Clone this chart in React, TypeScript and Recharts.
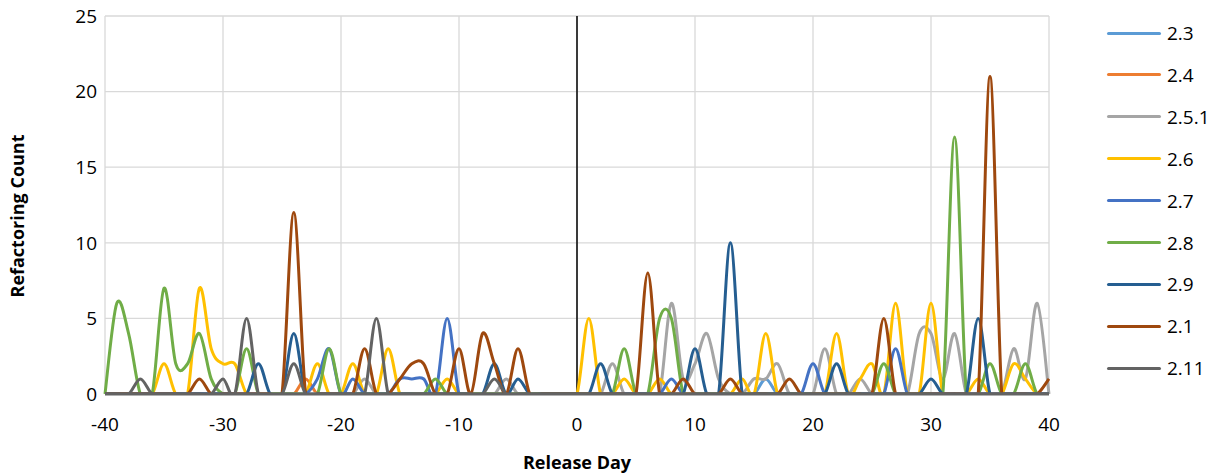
import React from "react";
import { LineChart, Line, XAxis, YAxis, CartesianGrid, ReferenceLine, Label } from "recharts";

// release days -40 .. 40
const DAYS = [
  -40, -39, -38, -37, -36, -35, -34, -33, -32, -31,
  -30, -29, -28, -27, -26, -25, -24, -23, -22, -21,
  -20, -19, -18, -17, -16, -15, -14, -13, -12, -11,
  -10, -9, -8, -7, -6, -5, -4, -3, -2, -1,
  0, 1, 2, 3, 4, 5, 6, 7, 8, 9,
  10, 11, 12, 13, 14, 15, 16, 17, 18, 19,
  20, 21, 22, 23, 24, 25, 26, 27, 28, 29,
  30, 31, 32, 33, 34, 35, 36, 37, 38, 39,
  40,
];

const V2_3 = [
  0, 0, 0, 0, 0, 0, 0, 0, 0, 0,
  0, 0, 0, 0, 0, 0, 0, 0, 0, 0,
  0, 0, 0, 0, 0, 0, 0, 0, 0, 0,
  0, 0, 0, 0, 0, 0, 0, 0, 0, 0,
  0, 0, 0, 0, 0, 0, 0, 0, 0, 0,
  0, 0, 0, 0, 0, 0, 1, 0, 0, 0,
  0, 0, 0, 0, 0, 0, 0, 0, 0, 0,
  0, 0, 0, 0, 0, 0, 0, 0, 0, 0,
  0,
];
const V2_4 = [
  0, 0, 0, 0, 0, 0, 0, 0, 0, 0,
  0, 0, 0, 0, 0, 0, 0, 1, 0, 0,
  0, 0, 0, 0, 0, 0, 0, 0, 0, 0,
  0, 0, 0, 0, 0, 0, 0, 0, 0, 0,
  0, 0, 0, 0, 0, 0, 0, 0, 0, 0,
  0, 0, 0, 0, 0, 0, 0, 0, 0, 0,
  0, 0, 0, 0, 0, 0, 0, 0, 0, 0,
  0, 0, 0, 0, 0, 0, 0, 0, 0, 0,
  0,
];
const V2_5_1 = [
  0, 0, 0, 0, 0, 0, 0, 0, 0, 0,
  0, 0, 0, 0, 0, 0, 0, 0, 0, 0,
  0, 0, 1, 0, 0, 0, 0, 0, 0, 0,
  0, 0, 0, 0, 1, 0, 0, 0, 0, 0,
  0, 0, 0, 2, 0, 0, 0, 0, 6, 1,
  2, 4, 1, 0, 0, 1, 1, 2, 0, 0,
  0, 3, 0, 0, 1, 0, 0, 0, 0, 4,
  4, 1, 4, 0, 0, 0, 0, 3, 1, 6,
  0,
];
const V2_6 = [
  0, 0, 0, 0, 0, 2, 0, 0, 7, 3,
  2, 2, 0, 0, 0, 0, 0, 0, 2, 0,
  0, 2, 0, 0, 3, 0, 0, 0, 0, 1,
  0, 0, 0, 0, 0, 0, 0, 0, 0, 0,
  0, 5, 0, 0, 1, 0, 0, 1, 0, 0,
  0, 0, 0, 0, 1, 0, 4, 0, 0, 0,
  0, 0, 4, 0, 1, 2, 0, 6, 0, 0,
  6, 0, 0, 0, 1, 0, 0, 2, 1, 0,
  0,
];
const V2_7 = [
  0, 0, 0, 0, 0, 0, 0, 0, 0, 0,
  0, 0, 0, 0, 0, 0, 0, 0, 1, 3,
  0, 1, 0, 0, 0, 1, 1, 1, 0, 5,
  0, 0, 0, 0, 0, 0, 0, 0, 0, 0,
  0, 0, 0, 0, 0, 0, 0, 0, 1, 0,
  0, 0, 0, 0, 0, 0, 0, 0, 0, 0,
  2, 0, 0, 0, 0, 0, 0, 3, 0, 0,
  0, 0, 0, 0, 0, 0, 0, 0, 0, 0,
  0,
];
const V2_8 = [
  0, 6, 4, 0, 0, 7, 2, 2, 4, 1,
  0, 0, 3, 0, 0, 0, 0, 0, 0, 3,
  0, 0, 0, 0, 0, 0, 0, 0, 1, 0,
  0, 0, 0, 0, 0, 0, 0, 0, 0, 0,
  0, 0, 0, 0, 3, 0, 0, 5, 5, 0,
  0, 0, 0, 0, 0, 0, 0, 0, 0, 0,
  0, 0, 0, 0, 0, 0, 2, 0, 0, 0,
  0, 0, 17, 0, 0, 2, 0, 0, 2, 0,
  0,
];
const V2_9 = [
  0, 0, 0, 0, 0, 0, 0, 0, 0, 0,
  0, 0, 0, 2, 0, 0, 4, 0, 0, 0,
  0, 0, 0, 0, 0, 0, 0, 0, 0, 0,
  0, 0, 0, 2, 0, 1, 0, 0, 0, 0,
  0, 0, 2, 0, 0, 0, 0, 0, 0, 0,
  3, 0, 0, 10, 0, 0, 0, 0, 0, 0,
  0, 0, 2, 0, 0, 0, 0, 0, 0, 0,
  1, 0, 0, 0, 5, 0, 0, 0, 0, 0,
  0,
];
const V2_1 = [
  0, 0, 0, 0, 0, 0, 0, 0, 1, 0,
  0, 0, 0, 0, 0, 0, 12, 0, 0, 0,
  0, 0, 3, 0, 0, 1, 2, 2, 0, 0,
  3, 0, 4, 2, 0, 3, 0, 0, 0, 0,
  0, 0, 0, 0, 0, 0, 8, 0, 0, 1,
  0, 0, 0, 1, 0, 0, 0, 0, 1, 0,
  0, 0, 0, 0, 0, 0, 5, 0, 0, 0,
  0, 0, 0, 0, 0, 21, 0, 0, 0, 0,
  1,
];
const V2_11 = [
  0, 0, 0, 1, 0, 0, 0, 0, 0, 0,
  1, 0, 5, 0, 0, 0, 2, 0, 0, 0,
  0, 0, 0, 5, 0, 0, 0, 0, 0, 0,
  0, 0, 0, 1, 0, 0, 0, 0, 0, 0,
  0, 0, 0, 0, 0, 0, 0, 0, 0, 0,
  0, 0, 0, 0, 0, 0, 0, 0, 0, 0,
  0, 0, 0, 0, 0, 0, 0, 0, 0, 0,
  0, 0, 0, 0, 0, 0, 0, 0, 0, 0,
  0,
];

const X_TICKS = [-40, -30, -20, -10, 0, 10, 20, 30, 40];
const Y_TICKS = [0, 5, 10, 15, 20, 25];

const SERIES = [
  { key: "2.3", values: V2_3, color: "#5B9BD5" },
  { key: "2.4", values: V2_4, color: "#ED7D31" },
  { key: "2.5.1", values: V2_5_1, color: "#A5A5A5" },
  { key: "2.6", values: V2_6, color: "#FFC000" },
  { key: "2.7", values: V2_7, color: "#4472C4" },
  { key: "2.8", values: V2_8, color: "#70AD47" },
  { key: "2.9", values: V2_9, color: "#255E91" },
  { key: "2.1", values: V2_1, color: "#9E480E" },
  { key: "2.11", values: V2_11, color: "#636363" },
];

const data = DAYS.map((day, i) => {
  const row: Record<string, number> = { day };
  SERIES.forEach((s) => (row[s.key] = s.values[i]));
  return row;
});

const FONT = "'Open Sans', 'Noto Sans', sans-serif";

// Excel-like smoothing (Catmull-Rom through every point)
function excelSmooth(context: any) {
  let xs: number[] = [];
  let ys: number[] = [];
  return {
    areaStart() {},
    areaEnd() {},
    lineStart() {
      xs = [];
      ys = [];
    },
    point(x: number, y: number) {
      xs.push(+x);
      ys.push(+y);
    },
    lineEnd() {
      const n = xs.length;
      if (!n) return;
      context.moveTo(xs[0], ys[0]);
      for (let i = 0; i < n - 1; i++) {
        const a = Math.max(i - 1, 0);
        const d = Math.min(i + 2, n - 1);
        context.bezierCurveTo(
          xs[i] + (xs[i + 1] - xs[a]) / 6,
          ys[i] + (ys[i + 1] - ys[a]) / 6,
          xs[i + 1] - (xs[d] - xs[i]) / 6,
          ys[i + 1] - (ys[d] - ys[i]) / 6,
          xs[i + 1],
          ys[i + 1]
        );
      }
    },
  };
}

function LegendBox() {
  return (
    <div style={{ position: "absolute", left: 1107, top: 21, fontFamily: FONT, fontSize: 19, color: "#000" }}>
      {SERIES.map((s, i) => (
        <div
          key={s.key}
          style={{ position: "absolute", left: 0, top: i * 41.9, height: 24, display: "flex", alignItems: "center", whiteSpace: "nowrap" }}
        >
          <span style={{ display: "inline-block", width: 54, height: 3, borderRadius: 2, background: s.color }} />
          <span style={{ marginLeft: 6, lineHeight: "24px" }}>{s.key}</span>
        </div>
      ))}
    </div>
  );
}

export default function App() {
  return (
    <div style={{ position: "absolute", left: 0, top: 0, width: 1225, height: 476, background: "#fff" }}>
      <LineChart width={1225} height={476} data={data} margin={{ top: 16, right: 176, bottom: 52, left: 45 }}>
        <CartesianGrid stroke="#D9D9D9" strokeWidth={1.3} />
        <XAxis
          dataKey="day"
          type="number"
          domain={[-40, 40]}
          ticks={X_TICKS}
          height={30}
          axisLine={{ stroke: "#636363", strokeWidth: 3 }}
          tickLine={false}
          tickMargin={18}
          tick={{ fontSize: 19, fill: "#000", fontFamily: FONT }}
        >
          <Label
            content={() => (
              <text x={577} y={469} textAnchor="middle" fontFamily={FONT} fontSize={18} fontWeight="bold" fill="#000">
                Release Day
              </text>
            )}
          />
        </XAxis>
        <YAxis
          type="number"
          domain={[0, 25]}
          ticks={Y_TICKS}
          allowDataOverflow
          width={60}
          axisLine={false}
          tickLine={false}
          tick={{ fontSize: 19, fill: "#000", fontFamily: FONT }}
        >
          <Label
            content={() => (
              <text
                x={24}
                y={216}
                transform="rotate(-90 24 216)"
                textAnchor="middle"
                fontFamily={FONT}
                fontSize={18}
                fontWeight="bold"
                fill="#000"
              >
                Refactoring Count
              </text>
            )}
          />
        </YAxis>
        <ReferenceLine x={0} stroke="#000" strokeWidth={1.5} />
        {SERIES.map((s) => (
          <Line
            key={s.key}
            dataKey={s.key}
            name={s.key}
            type={excelSmooth as any}
            stroke={s.color}
            strokeWidth={3}
            dot={false}
            activeDot={false}
            isAnimationActive={false}
          />
        ))}
      </LineChart>
      <LegendBox />
    </div>
  );
}
